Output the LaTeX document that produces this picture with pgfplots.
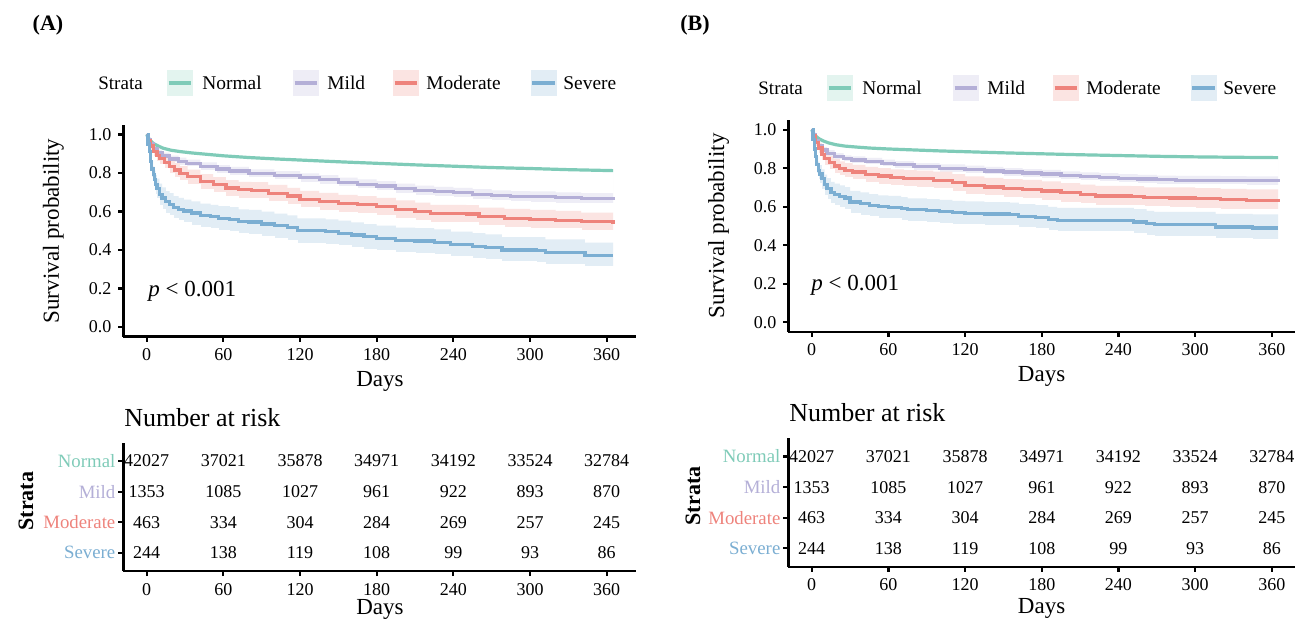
\documentclass[border=0pt]{standalone}
\usepackage{fontspec}
\setmainfont{Liberation Serif}
\usepackage{pgfplots}
\usepackage{pgfplotstable}
\pgfplotsset{compat=1.18}

\definecolor{cnor}{HTML}{7FCBB8}
\definecolor{cmil}{HTML}{B4AFD7}
\definecolor{cmod}{HTML}{EE837C}
\definecolor{csev}{HTML}{7BAED2}

% survival curves: day, estimate, lower CI, upper CI
\pgfplotstableread{
d s lo hi
0 1.000 1.000 1.000
1 0.985 0.982 0.988
2 0.975 0.972 0.978
4 0.960 0.957 0.963
6 0.950 0.947 0.953
9 0.940 0.937 0.943
13 0.928 0.925 0.931
19 0.918 0.915 0.921
26 0.911 0.908 0.914
35 0.904 0.901 0.907
45 0.898 0.895 0.901
60 0.889 0.886 0.892
80 0.880 0.877 0.883
100 0.873 0.870 0.876
120 0.867 0.864 0.870
150 0.858 0.855 0.861
180 0.850 0.847 0.853
210 0.842 0.839 0.845
240 0.835 0.831 0.839
270 0.828 0.824 0.832
300 0.823 0.819 0.827
330 0.817 0.813 0.821
365 0.812 0.808 0.816
}\aN
\pgfplotstableread{
d s lo hi
0 1.000 1.000 1.000
1 0.975 0.966 0.984
3 0.950 0.938 0.962
5 0.928 0.914 0.942
8 0.905 0.889 0.921
12 0.888 0.871 0.905
18 0.872 0.854 0.890
25 0.860 0.841 0.879
31 0.850 0.831 0.869
42 0.835 0.815 0.855
55 0.820 0.799 0.841
65 0.810 0.789 0.831
80 0.797 0.775 0.819
100 0.787 0.765 0.809
120 0.775 0.752 0.798
135 0.765 0.742 0.788
150 0.752 0.728 0.776
165 0.742 0.718 0.766
180 0.732 0.707 0.757
195 0.720 0.695 0.745
210 0.708 0.682 0.734
225 0.702 0.676 0.728
240 0.697 0.671 0.723
255 0.689 0.662 0.716
270 0.683 0.656 0.710
285 0.679 0.652 0.706
300 0.676 0.648 0.704
320 0.671 0.643 0.699
340 0.667 0.639 0.695
365 0.663 0.635 0.691
}\aMi
\pgfplotstableread{
d s lo hi
0 1.000 1.000 1.000
1 0.970 0.955 0.985
3 0.940 0.918 0.962
5 0.911 0.885 0.937
8 0.890 0.860 0.918
10 0.876 0.844 0.906
14 0.855 0.821 0.887
18 0.833 0.797 0.867
22 0.815 0.777 0.851
26 0.798 0.759 0.835
32 0.780 0.740 0.817
42 0.755 0.714 0.794
52 0.738 0.696 0.778
62 0.722 0.679 0.763
72 0.712 0.669 0.754
82 0.710 0.667 0.752
95 0.695 0.651 0.738
110 0.680 0.636 0.723
120 0.664 0.619 0.707
135 0.652 0.607 0.696
150 0.642 0.596 0.686
165 0.634 0.588 0.679
180 0.626 0.580 0.671
195 0.612 0.565 0.657
210 0.600 0.553 0.646
222 0.588 0.541 0.634
250 0.587 0.540 0.633
260 0.573 0.526 0.620
280 0.565 0.518 0.613
300 0.560 0.514 0.608
320 0.555 0.509 0.603
340 0.546 0.500 0.594
365 0.535 0.490 0.583
}\aMo
\pgfplotstableread{
d s lo hi
0 1.000 1.000 1.000
1 0.950 0.920 0.975
2 0.910 0.872 0.942
3 0.860 0.818 0.897
4 0.820 0.774 0.861
5 0.790 0.742 0.834
6 0.765 0.714 0.812
7 0.740 0.688 0.789
8 0.720 0.666 0.771
10 0.690 0.633 0.744
12 0.670 0.612 0.725
15 0.650 0.591 0.706
18 0.638 0.578 0.695
21 0.622 0.561 0.680
25 0.612 0.551 0.671
29 0.602 0.540 0.661
35 0.592 0.529 0.652
42 0.580 0.517 0.641
50 0.573 0.510 0.634
56 0.565 0.501 0.627
65 0.560 0.496 0.622
72 0.548 0.484 0.611
80 0.545 0.481 0.608
90 0.535 0.470 0.599
100 0.525 0.460 0.589
110 0.515 0.450 0.579
118 0.500 0.435 0.564
140 0.495 0.430 0.559
150 0.487 0.422 0.552
160 0.478 0.413 0.543
170 0.468 0.403 0.534
180 0.460 0.395 0.526
195 0.450 0.386 0.516
210 0.447 0.383 0.513
225 0.440 0.376 0.507
238 0.428 0.365 0.495
255 0.420 0.357 0.487
265 0.414 0.352 0.481
278 0.400 0.339 0.467
305 0.398 0.337 0.466
312 0.387 0.327 0.455
340 0.387 0.327 0.455
343 0.370 0.313 0.438
365 0.370 0.313 0.438
}\aS

\pgfplotstableread{
d s lo hi
0 1.000 1.000 1.000
1 0.985 0.982 0.988
2 0.975 0.972 0.978
4 0.962 0.959 0.965
6 0.952 0.949 0.955
9 0.942 0.939 0.945
13 0.932 0.929 0.935
19 0.922 0.919 0.925
26 0.915 0.912 0.918
35 0.910 0.907 0.913
45 0.905 0.902 0.908
60 0.900 0.897 0.903
80 0.895 0.892 0.898
100 0.890 0.887 0.893
120 0.886 0.883 0.889
150 0.880 0.877 0.883
180 0.875 0.872 0.878
210 0.870 0.867 0.873
240 0.866 0.862 0.870
270 0.862 0.858 0.866
300 0.859 0.855 0.863
330 0.857 0.853 0.861
365 0.855 0.851 0.859
}\bN
\pgfplotstableread{
d s lo hi
0 1.000 1.000 1.000
1 0.975 0.967 0.983
3 0.945 0.934 0.956
5 0.920 0.907 0.933
8 0.895 0.880 0.910
12 0.878 0.862 0.894
18 0.862 0.845 0.879
25 0.850 0.833 0.867
31 0.843 0.825 0.861
42 0.836 0.818 0.854
55 0.826 0.807 0.845
65 0.818 0.799 0.837
80 0.807 0.787 0.827
100 0.800 0.780 0.820
120 0.793 0.773 0.813
135 0.786 0.765 0.807
150 0.780 0.759 0.801
165 0.775 0.754 0.796
180 0.770 0.749 0.791
195 0.762 0.740 0.784
210 0.757 0.735 0.779
225 0.752 0.730 0.774
240 0.748 0.726 0.770
255 0.744 0.722 0.766
270 0.740 0.718 0.762
285 0.738 0.716 0.760
300 0.737 0.714 0.760
320 0.736 0.713 0.759
340 0.735 0.712 0.758
365 0.734 0.711 0.757
}\bMi
\pgfplotstableread{
d s lo hi
0 1.000 1.000 1.000
1 0.970 0.955 0.985
3 0.935 0.912 0.957
5 0.905 0.878 0.930
8 0.870 0.838 0.899
10 0.850 0.816 0.881
14 0.830 0.794 0.863
18 0.812 0.774 0.847
22 0.800 0.761 0.836
26 0.790 0.750 0.827
32 0.780 0.740 0.818
42 0.768 0.727 0.807
52 0.760 0.718 0.800
62 0.753 0.710 0.794
72 0.748 0.705 0.790
82 0.745 0.701 0.788
95 0.738 0.694 0.782
110 0.725 0.680 0.770
120 0.712 0.666 0.758
135 0.703 0.657 0.750
150 0.695 0.648 0.743
165 0.690 0.643 0.739
180 0.682 0.635 0.732
195 0.672 0.624 0.723
210 0.663 0.615 0.715
222 0.656 0.608 0.709
250 0.654 0.606 0.707
260 0.647 0.599 0.701
280 0.645 0.597 0.700
300 0.641 0.593 0.697
320 0.636 0.588 0.693
340 0.632 0.584 0.690
365 0.626 0.579 0.685
}\bMo
\pgfplotstableread{
d s lo hi
0 1.000 1.000 1.000
1 0.950 0.920 0.975
2 0.900 0.862 0.933
3 0.860 0.818 0.897
4 0.820 0.774 0.861
5 0.790 0.742 0.834
6 0.770 0.720 0.816
8 0.745 0.692 0.794
10 0.715 0.660 0.767
12 0.695 0.639 0.748
15 0.675 0.618 0.729
18 0.665 0.607 0.720
22 0.655 0.596 0.711
26 0.645 0.586 0.702
30 0.625 0.565 0.683
38 0.615 0.555 0.674
45 0.607 0.547 0.666
52 0.600 0.540 0.659
60 0.598 0.538 0.657
70 0.590 0.530 0.650
75 0.584 0.524 0.644
90 0.580 0.520 0.640
100 0.575 0.515 0.636
110 0.570 0.510 0.631
120 0.566 0.506 0.628
135 0.562 0.502 0.624
155 0.560 0.500 0.622
162 0.551 0.491 0.614
175 0.545 0.485 0.608
185 0.535 0.475 0.599
192 0.529 0.469 0.594
245 0.529 0.469 0.594
252 0.521 0.461 0.587
262 0.512 0.452 0.578
268 0.506 0.446 0.573
313 0.506 0.446 0.573
316 0.495 0.435 0.563
342 0.495 0.435 0.563
345 0.490 0.429 0.560
365 0.490 0.429 0.560
}\bS

% number at risk (same in both panels)
\pgfplotstableread{
d r n
0 4 42027
60 4 37021
120 4 35878
180 4 34971
240 4 34192
300 4 33524
360 4 32784
0 3 1353
60 3 1085
120 3 1027
180 3 961
240 3 922
300 3 893
360 3 870
0 2 463
60 2 334
120 2 304
180 2 284
240 2 269
300 2 257
360 2 245
0 1 244
60 1 138
120 1 119
180 1 108
240 1 99
300 1 93
360 1 86
}\risktab

\newcommand{\fs}[1]{\fontsize{#1}{#1}\selectfont}
\tikzset{lab/.style={anchor=west, inner sep=0pt}}

\pgfplotsset{
  base/.style={
    scale only axis, anchor=south west, axis on top,
    axis lines=left, axis line style={-, line width=1.1pt, black},
    tick align=outside, major tick length=2.5pt,
    tick style={line width=1.1pt, black},
    xmin=-18.25, xtick={0,60,120,180,240,300,360},
    ticklabel style={font=\fs{9}},
    /pgf/number format/assume math mode=true,
  },
  km/.style={base, ymin=-0.05, ymax=1.05, height=105.9pt,
    ytick={0,0.2,0.4,0.6,0.8,1},
    yticklabel style={/pgf/number format/.cd, fixed, fixed zerofill, precision=1},
  },
  rk/.style={base, ymin=0.4, ymax=4.6, height=64.25pt, clip=false,
    ytick={1,2,3,4},
    yticklabels={\textcolor{csev}{Severe},\textcolor{cmod}{Moderate},\textcolor{cmil}{Mild},\textcolor{cnor}{Normal}},
    yticklabel style={font=\fs{9.4}, xshift=2pt},
  },
}

% confidence band: fill under the upper limit, then mask under the lower limit
\newcommand{\kmband}[3]{%
  \addplot[fill=#2!22!white, draw=none, #3, forget plot] table[x=d,y=hi]{#1} \closedcycle;
  \addplot[fill=white, draw=white, line width=0.5pt, #3, forget plot] table[x=d,y=lo]{#1} \closedcycle;
}
\newcommand{\kmline}[3]{%
  \addplot[#2, line width=1.6pt, #3] table[x=d,y=s]{#1};
}
\newcommand{\risknums}{%
  \addplot[only marks, mark=none, nodes near coords, point meta=explicit symbolic,
    every node near coord/.append style={anchor=center, font=\fs{9}, black}]
    table[x=d, y=r, meta=n]{\risktab};
}
\newcommand{\legkey}[3]{% x, y, colour
  \fill[#3!22] ({#1-6.5pt},{#2-6.5pt}) rectangle ({#1+6.5pt},{#2+6.5pt});
  \draw[#3, line width=1.6pt] ({#1-5.7pt},#2) -- ({#1+5.7pt},#2);
}

\begin{document}
\begin{tikzpicture}
\path[use as bounding box] (0,0) rectangle (647.5pt,310.5pt);

% ---------- panel A ----------
\node[font=\bfseries\fs{11}] at (24pt,298pt) {(A)};
\node[lab, font=\fs{9.5}] at (49pt,269pt) {Strata};
\legkey{90pt}{269pt}{cnor}
\node[lab, font=\fs{9.7}] at (101pt,269pt) {Normal};
\legkey{153pt}{269pt}{cmil}
\node[lab, font=\fs{9.7}] at (163.5pt,269pt) {Mild};
\legkey{203pt}{269pt}{cmod}
\node[lab, font=\fs{9.7}] at (213pt,269pt) {Moderate};
\legkey{271.75pt}{269pt}{csev}
\node[lab, font=\fs{9.7}] at (281.5pt,269pt) {Severe};

\begin{axis}[km, at={(61.7pt,142.2pt)}, width=256.5pt, xmax=383.25]
\kmband{\aN}{cnor}{sharp plot}
\kmband{\aMi}{cmil}{const plot}
\kmband{\aMo}{cmod}{const plot}
\kmband{\aS}{csev}{const plot}
\kmline{\aN}{cnor}{sharp plot}
\kmline{\aMi}{cmil}{const plot}
\kmline{\aMo}{cmod}{const plot}
\kmline{\aS}{csev}{const plot}
\end{axis}
\node[rotate=90, font=\fs{11.5}] at (26.75pt,195pt) {Survival probability};
\node[font=\fs{11.5}] at (190pt,120pt) {Days};
\node[lab, font=\fs{11.5}] at (74pt,165pt) {\textit{p} < 0.001};

\node[lab, font=\fs{13}] at (62pt,101.5pt) {Number at risk};
\begin{axis}[rk, at={(61.7pt,24.9pt)}, width=256.5pt, xmax=383.25]
\risknums
\end{axis}
\node[rotate=90, font=\bfseries\fs{11}] at (13pt,60pt) {Strata};
\node[font=\fs{11.5}] at (190pt,5.6pt) {Days};

% ---------- panel B ----------
\node[font=\bfseries\fs{11}] at (347.5pt,298pt) {(B)};
\node[lab, font=\fs{9.5}] at (379pt,266.5pt) {Strata};
\legkey{420pt}{266.5pt}{cnor}
\node[lab, font=\fs{9.7}] at (431pt,266.5pt) {Normal};
\legkey{483pt}{266.5pt}{cmil}
\node[lab, font=\fs{9.7}] at (493.5pt,266.5pt) {Mild};
\legkey{533pt}{266.5pt}{cmod}
\node[lab, font=\fs{9.7}] at (543pt,266.5pt) {Moderate};
\legkey{601.75pt}{266.5pt}{csev}
\node[lab, font=\fs{9.7}] at (611.5pt,266.5pt) {Severe};

\begin{axis}[km, at={(394.2pt,144.55pt)}, width=253.2pt, xmax=378]
\kmband{\bN}{cnor}{sharp plot}
\kmband{\bMi}{cmil}{const plot}
\kmband{\bMo}{cmod}{const plot}
\kmband{\bS}{csev}{const plot}
\kmline{\bN}{cnor}{sharp plot}
\kmline{\bMi}{cmil}{const plot}
\kmline{\bMo}{cmod}{const plot}
\kmline{\bS}{csev}{const plot}
\end{axis}
\node[rotate=90, font=\fs{11.5}] at (359.25pt,197.6pt) {Survival probability};
\node[font=\fs{11.5}] at (520.8pt,122.5pt) {Days};
\node[lab, font=\fs{11.5}] at (405.5pt,168pt) {\textit{p} < 0.001};

\node[lab, font=\fs{13}] at (394.5pt,104pt) {Number at risk};
\begin{axis}[rk, at={(394.2pt,27.15pt)}, width=253.2pt, xmax=378]
\risknums
\end{axis}
\node[rotate=90, font=\bfseries\fs{11}] at (346.5pt,62.5pt) {Strata};
\node[font=\fs{11.5}] at (520.8pt,6.2pt) {Days};
\end{tikzpicture}
\end{document}
